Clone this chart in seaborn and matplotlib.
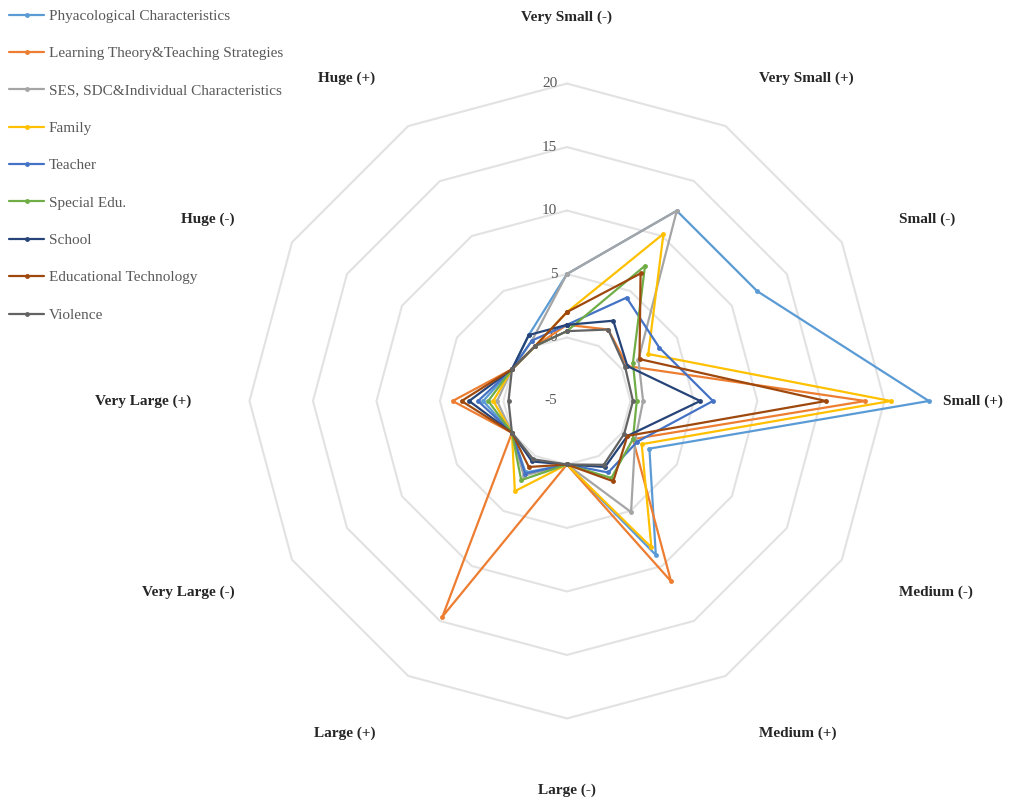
import numpy as np
import pandas as pd
import matplotlib
matplotlib.use("Agg")
import matplotlib.pyplot as plt
from matplotlib.lines import Line2D
from matplotlib.transforms import offset_copy
import seaborn as sns

categories = ['Very Small (-)', 'Very Small (+)', 'Small (-)', 'Small (+)',
              'Medium (-)', 'Medium (+)', 'Large (-)', 'Large (+)',
              'Very Large (-)', 'Very Large (+)', 'Huge (-)', 'Huge (+)']

series_names = ['Phyacological Characteristics', 'Learning Theory&Teaching Strategies',
                'SES, SDC&Individual Characteristics', 'Family', 'Teacher',
                'Special Edu.', 'School', 'Educational Technology', 'Violence']

physiological = [5.0, 12.3, 12.3, 23.5, 2.5, 9.0, 0, 1.5, 0, 1.6, 0, 1.0]
learning      = [1.0, 1.5, 0.5, 18.5, 1.0, 11.4, 0, 14.6, 0, 4.0, 0, 0.0]
ses           = [5.0, 12.3, 1.5, 1.0, 1.2, 5.1, 0, 1.8, 0, 0.5, 0, 0.5]
family        = [2.0, 10.2, 2.4, 20.5, 1.8, 8.3, 0, 3.2, 0, 0.8, 0, 0.0]
teacher       = [1.0, 4.4, 3.4, 6.5, 1.4, 1.5, 0, 1.6, 0, 2.0, 0, 0.5]
special_edu   = [0.5, 7.3, 1.0, 0.5, 1.0, 2.0, 0, 2.2, 0, 1.2, 0, 0.0]
school        = [1.0, 2.3, 0.5, 5.5, 0.5, 1.0, 0, 0.5, 0, 2.7, 0, 1.0]
edtech        = [2.0, 6.6, 1.6, 15.4, 0.5, 2.3, 0, 1.0, 0, 3.3, 0, 0.0]
violence      = [0.5, 1.5, 0.3, 0.2, 0.2, 0.8, 0, 0.3, 0, -0.4, 0, 0.0]

all_values = [physiological, learning, ses, family, teacher,
              special_edu, school, edtech, violence]

colors = ['#5B9BD5', '#ED7D31', '#A5A5A5', '#FFC000', '#4472C4',
          '#70AD47', '#264478', '#9E480E', '#636363']

ticks = [-5, 0, 5, 10, 15, 20]

sns.set_style("white")
plt.rcParams['font.family'] = ['Liberation Serif', 'DejaVu Serif']

fig = plt.figure(figsize=(10.16, 8.02), dpi=100)
ax = fig.add_axes([0.183, 0.025, 0.75, 0.950], projection='polar')
ax.set_theta_zero_location('N')
ax.set_theta_direction(-1)
ax.set_ylim(-5, 25)
ax.grid(False)
ax.spines['polar'].set_visible(False)
ax.set_facecolor('white')

n = len(categories)
angles = np.arange(n) * 2 * np.pi / n
closed_angles = np.append(angles, 2 * np.pi)

# gridlines (12-gons)
for t in ticks[1:]:
    ax.plot(closed_angles, [t] * (n + 1), color='#E2E2E2', lw=1.5, zorder=1)

# long-form data
rows = []
for name, vals in zip(series_names, all_values):
    for a, v in zip(closed_angles, list(vals) + [vals[0]]):
        rows.append({'series': name, 'theta': a, 'value': v})
df = pd.DataFrame(rows)

for name, col in zip(series_names, colors):
    sub = df[df['series'] == name]
    sns.lineplot(data=sub, x='theta', y='value', ax=ax, color=col, lw=1.6,
                 marker='o', markersize=3.5, markeredgewidth=0,
                 estimator=None, sort=True, legend=False, zorder=3)
ax.set_xlabel('')
ax.set_ylabel('')
ax.set_xticks([])
ax.set_yticks([])
ax.set_ylim(-5, 25)

# tick labels
trans = offset_copy(ax.transData, fig=fig, x=-7, y=0, units='points')
for t in ticks:
    ax.text(0, t, str(t), transform=trans, ha='right', va='center',
            fontsize=11, color='#595959', zorder=2)

# category labels
for a, lab in zip(angles, categories):
    s = np.sin(a)
    c = np.cos(a)
    if abs(s) < 0.1:
        ha = 'center'
    elif s > 0:
        ha = 'left'
    else:
        ha = 'right'
    r = 25.2
    dy = 0
    if abs(s) < 0.1 and c < 0:
        dy = -4
    elif abs(s) > 0.9:
        r = 24.6
    elif c > 0.1 and abs(s) > 0.1:
        dy = -7
    tr = offset_copy(ax.transData, fig=fig, x=0, y=dy, units='points')
    ax.text(a, r, lab, transform=tr, ha=ha, va='center', fontsize=11,
            fontweight='bold', color='#262626')

handles = [Line2D([0], [0], color=c, lw=1.6, marker='o', markersize=3.5,
                  markeredgewidth=0) for c in colors]
leg = fig.legend(handles, series_names, loc='upper left',
                 bbox_to_anchor=(0.0, 1.0), frameon=False, fontsize=11,
                 handlelength=2.3, handletextpad=0.3, labelspacing=1.55,
                 borderaxespad=0.2)
for txt in leg.get_texts():
    txt.set_color('#595959')

fig.savefig('out.png', dpi=100)
